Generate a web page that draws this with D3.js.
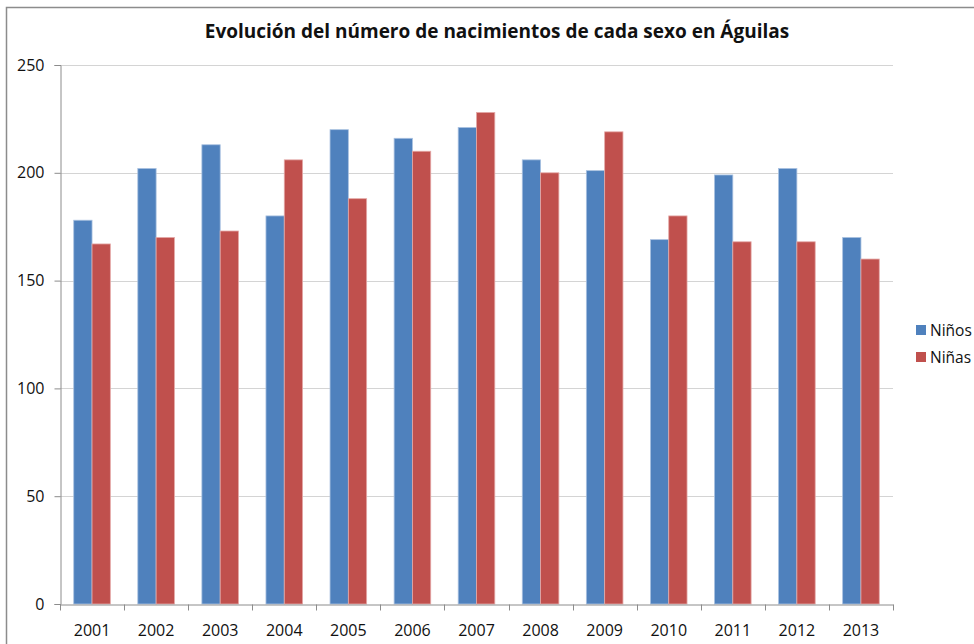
<!DOCTYPE html>
<html>
<head>
<meta charset="utf-8">
<script src="https://cdn.jsdelivr.net/npm/d3@7"></script>
<style>
    body { margin: 0; background: #ffffff; }
    #vis-container { width: 974px; height: 644px; }
    text { font-family: "Open Sans", "Noto Sans", sans-serif; fill: #111111; }
</style>
</head>
<body>
<div id="vis-container"></div>
<script>
// Chart data
const years = ["2001", "2002", "2003", "2004", "2005", "2006", "2007", "2008", "2009", "2010", "2011", "2012", "2013"];
const ninos = [178, 202, 213, 180, 220, 216, 221, 206, 201, 169, 199, 202, 170];
const ninas = [167, 170, 173, 206, 188, 210, 228, 200, 219, 180, 168, 168, 160];
const seriesNames = ["Niños", "Niñas"];
const seriesColors = ["#4f81bd", "#c0504d"];
const yTicks = [0, 50, 100, 150, 200, 250];

function main()
{
    const width = 974;
    const height = 644;

    // Plot area
    const plot = { left: 60, right: 893, top: 65, bottom: 604 };

    const svg = d3.select("#vis-container")
        .append("svg")
        .attr("width", width)
        .attr("height", height);

    // Outer chart frame (only top and left show in the picture)
    svg.append("path")
        .attr("d", `M6.5,${height} V7.5 H${width}`)
        .attr("fill", "none")
        .attr("stroke", "#8c8c8c")
        .attr("stroke-width", 1.5);

    // Title
    svg.append("text")
        .attr("x", 497)
        .attr("y", 38)
        .attr("text-anchor", "middle")
        .style("font-size", "19px")
        .style("font-weight", "bold")
        .text("Evolución del número de nacimientos de cada sexo en Águilas");

    // Scales
    const xScale = d3.scaleBand()
        .domain(years)
        .range([plot.left, plot.right]);

    const yScale = d3.scaleLinear()
        .domain([0, 250])
        .range([plot.bottom, plot.top]);

    // Gridlines
    svg.append("g")
        .selectAll("line")
        .data(yTicks.filter(d => d > 0))
        .enter()
        .append("line")
        .attr("x1", plot.left)
        .attr("x2", plot.right)
        .attr("y1", d => Math.round(yScale(d)) + 0.5)
        .attr("y2", d => Math.round(yScale(d)) + 0.5)
        .attr("stroke", "#d4d4d4")
        .attr("stroke-width", 1);

    // Bars
    const groupScale = d3.scaleBand()
        .domain(seriesNames)
        .range([0, xScale.bandwidth()])
        .paddingOuter(0.75)
        .paddingInner(0);

    const seriesData = [ninos, ninas];

    seriesNames.forEach((name, s) => {
        svg.append("g")
            .selectAll("rect")
            .data(seriesData[s])
            .enter()
            .append("rect")
            .attr("x", (_, i) => xScale(years[i]) + groupScale(name))
            .attr("y", d => yScale(d))
            .attr("width", groupScale.bandwidth())
            .attr("height", d => plot.bottom - yScale(d))
            .attr("fill", seriesColors[s])
            .attr("stroke", s === 0 ? "#a9c1e0" : "#e4a9a7")
            .attr("stroke-width", 0.8);
    });

    // Y axis
    const yAxis = d3.axisLeft(yScale)
        .tickValues(yTicks)
        .tickSize(6)
        .tickPadding(10);

    const yAxisG = svg.append("g")
        .attr("transform", `translate(${plot.left + 0.5}, 0)`)
        .call(yAxis);
    yAxisG.select(".domain").attr("stroke", "#8c8c8c");
    yAxisG.selectAll(".tick line").attr("stroke", "#8c8c8c");
    yAxisG.selectAll(".tick text")
        .style("font-size", "16px")
        .attr("fill", "#111111");

    // X axis
    const xAxis = d3.axisBottom(xScale)
        .tickSize(0)
        .tickPadding(20);

    const xAxisG = svg.append("g")
        .attr("transform", `translate(0, ${plot.bottom + 0.5})`)
        .call(xAxis);
    xAxisG.select(".domain").attr("stroke", "#8c8c8c");
    xAxisG.selectAll(".tick text")
        .style("font-size", "16px")
        .attr("fill", "#111111");

    // X tick marks at category boundaries
    const boundaries = years.map(y => xScale(y)).concat([plot.right]);
    xAxisG.selectAll(".boundary")
        .data(boundaries)
        .enter()
        .append("line")
        .attr("class", "boundary")
        .attr("x1", d => Math.round(d) + 0.5)
        .attr("x2", d => Math.round(d) + 0.5)
        .attr("y1", 0)
        .attr("y2", 6)
        .attr("stroke", "#8c8c8c");

    // Legend
    const legend = svg.append("g")
        .attr("transform", "translate(916, 325)");

    seriesNames.forEach((name, s) => {
        const row = legend.append("g")
            .attr("transform", `translate(0, ${s * 27})`);
        row.append("rect")
            .attr("width", 10)
            .attr("height", 10)
            .attr("fill", seriesColors[s]);
        row.append("text")
            .attr("x", 14)
            .attr("y", 11)
            .style("font-size", "15.5px")
            .text(name);
    });
}

document.addEventListener("DOMContentLoaded", main);
</script>
</body>
</html>
